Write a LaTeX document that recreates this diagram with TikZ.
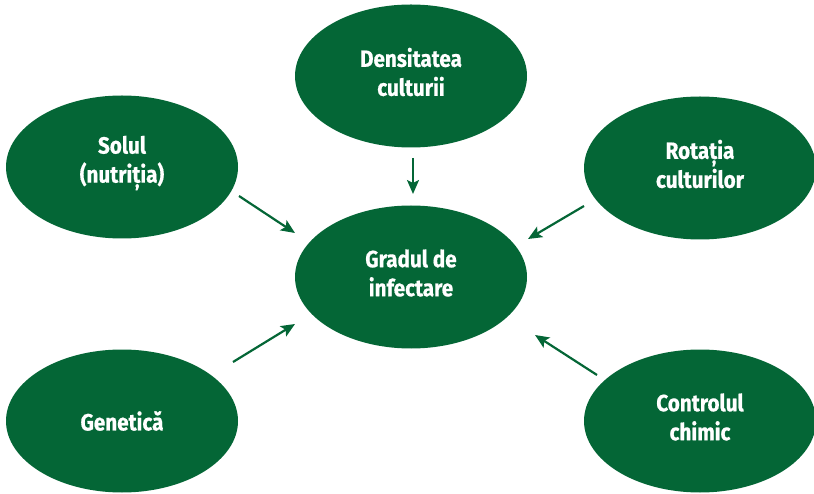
\documentclass[tikz,border=0pt]{standalone}
\usepackage{fontspec}
\setmainfont{Fira Sans}[UprightFont=* Bold, FakeStretch=0.88, FakeBold=0.6]
\usetikzlibrary{arrows.meta,calc,shapes.geometric}
\definecolor{dgreen}{RGB}{4,102,54}
\begin{document}
\begin{tikzpicture}[x=1pt,y=-1pt,
  blob/.style={ellipse, fill=dgreen, minimum width=232pt, minimum height=143pt,
    inner sep=0pt},
  lbl/.style={inner sep=0pt, text=white, align=center, font=\fontsize{23.5}{29}\selectfont},
  arr/.style={draw=dgreen, line width=2.2pt, -{Stealth[length=14pt,width=12pt,inset=3pt]}}]
\useasboundingbox (0,0) rectangle (814,494);
\node[blob] (dens) at (411,76) {};
\node[blob] (grad) at (411,277) {};
\node[blob] (solul) at (122,167) {};
\node[blob] (rot) at (700,168) {};
\node[blob] (gen) at (122,421) {};
\node[blob] (ctrl) at (700,421) {};
\node[lbl] (densT) at ($(dens.center)+(0,-4)$) {Densitatea\\culturii};
\node[lbl] (gradT) at ($(grad.center)+(0,-4)$) {Gradul de\\infectare};
\node[lbl] (solulT) at ($(solul.center)+(0,-4)$) {Solul\\(nutriția)};
\node[lbl] (rotT) at ($(rot.center)+(0,-4)$) {Rotația\\culturilor};
\node[lbl] (genT) at (gen.center) {Genetică};
\node[lbl] (ctrlT) at ($(ctrl.center)+(0,-4)$) {Controlul\\chimic};
\draw[arr] ($(dens.center)+(2,82)$) -- ($(grad.center)+(2,-83)$);
\draw[arr] ($(solul.center)+(117,29)$) -- ($(grad.center)+(-116,-44)$);
\draw[arr] ($(rot.center)+(-116,38)$) -- ($(grad.center)+(117,-38)$);
\draw[arr] ($(gen.center)+(111,-59)$) -- ($(grad.center)+(-116,47)$);
\draw[arr] ($(ctrl.center)+(-103,-46)$) -- ($(grad.center)+(124,58)$);
\end{tikzpicture}
\end{document}
